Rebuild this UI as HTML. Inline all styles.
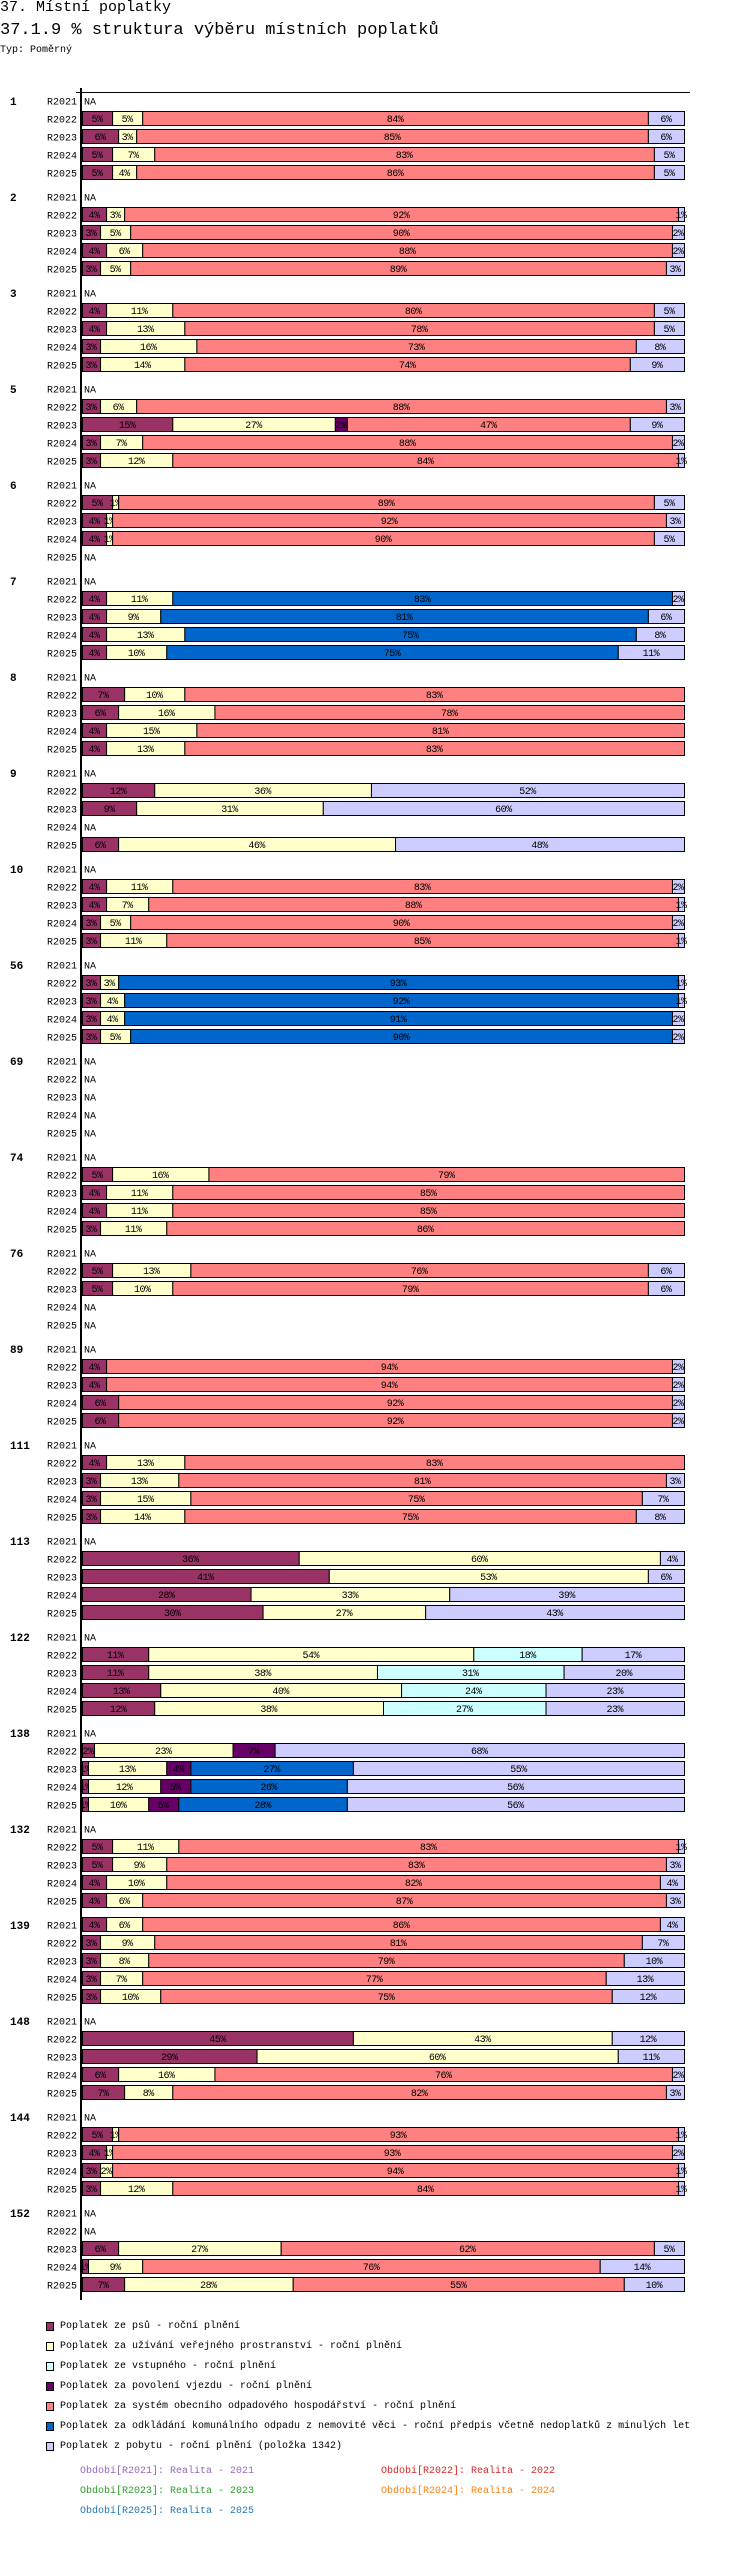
<!DOCTYPE html>
<html><head><meta charset="utf-8">
<style>
body{margin:0;background:#fff;font-family:"Liberation Mono",monospace;}
#wrap{position:relative;width:750px;height:2570px;overflow:hidden;}
.t1{position:absolute;left:0;top:-1px;font-size:15px;}
.t2{position:absolute;left:0;top:21px;font-size:17px;}
.t3{position:absolute;left:0;top:45px;font-size:10px;}
svg{position:absolute;left:0;top:0;}
.leg{position:absolute;left:60px;font-size:10px;white-space:nowrap;line-height:14px;}
.per{position:absolute;font-size:10px;white-space:nowrap;line-height:14px;}
</style></head><body>
<div id="wrap">
<div class="t1">37. Místní poplatky</div>
<div class="t2">37.1.9 % struktura výběru místních poplatků</div>
<div class="t3">Typ: Poměrný</div>
<svg id="chart" width="750" height="2570"></svg>
</div>
<script>
const groups = ["1","2","3","5","6","7","8","9","10","56","69","74","76","89","111","113","122","138","132","139","148","144","152"];
const periods = ["R2021","R2022","R2023","R2024","R2025"];
const seriesNames = ["Poplatek ze psů - roční plnění","Poplatek za užívání veřejného prostranství - roční plnění","Poplatek ze vstupného - roční plnění","Poplatek za povolení vjezdu - roční plnění","Poplatek za systém obecního odpadového hospodářství - roční plnění","Poplatek za odkládání komunálního odpadu z nemovité věci - roční předpis včetně nedoplatků z minulých let","Poplatek z pobytu - roční plnění (položka 1342)"];
const seriesColors = ["#993366","#ffffcc","#ccffff","#660066","#ff8080","#0066cc","#ccccff"];
const psy = [[0,5,6,5,5],[0,4,3,4,3],[0,4,4,3,3],[0,3,15,3,3],[0,5,4,4,0],[0,4,4,4,4],[0,7,6,4,4],[0,12,9,0,6],[0,4,4,3,3],[0,3,3,3,3],[0,0,0,0,0],[0,5,4,4,3],[0,5,5,0,0],[0,4,4,6,6],[0,4,3,3,3],[0,36,41,28,30],[0,11,11,13,12],[0,2,1,1,1],[0,5,5,4,4],[4,3,3,3,3],[0,45,29,6,7],[0,5,4,3,3],[0,0,6,1,7]];
const uzivani = [[0,5,3,7,4],[0,3,5,6,5],[0,11,13,16,14],[0,6,27,7,12],[0,1,1,1,0],[0,11,9,13,10],[0,10,16,15,13],[0,36,31,0,46],[0,11,7,5,11],[0,3,4,4,5],[0,0,0,0,0],[0,16,11,11,11],[0,13,10,0,0],[0,0,0,0,0],[0,13,13,15,14],[0,60,53,33,27],[0,54,38,40,38],[0,23,13,12,10],[0,11,9,10,6],[6,9,8,7,10],[0,43,60,16,8],[0,1,1,2,12],[0,0,27,9,28]];
const vstupne = [[0,0,0,0,0],[0,0,0,0,0],[0,0,0,0,0],[0,0,0,0,0],[0,0,0,0,0],[0,0,0,0,0],[0,0,0,0,0],[0,0,0,0,0],[0,0,0,0,0],[0,0,0,0,0],[0,0,0,0,0],[0,0,0,0,0],[0,0,0,0,0],[0,0,0,0,0],[0,0,0,0,0],[0,0,0,0,0],[0,18,31,24,27],[0,0,0,0,0],[0,0,0,0,0],[0,0,0,0,0],[0,0,0,0,0],[0,0,0,0,0],[0,0,0,0,0]];
const vjezd = [[0,0,0,0,0],[0,0,0,0,0],[0,0,0,0,0],[0,0,2,0,0],[0,0,0,0,0],[0,0,0,0,0],[0,0,0,0,0],[0,0,0,0,0],[0,0,0,0,0],[0,0,0,0,0],[0,0,0,0,0],[0,0,0,0,0],[0,0,0,0,0],[0,0,0,0,0],[0,0,0,0,0],[0,0,0,0,0],[0,0,0,0,0],[0,7,4,5,5],[0,0,0,0,0],[0,0,0,0,0],[0,0,0,0,0],[0,0,0,0,0],[0,0,0,0,0]];
const odpad = [[0,84,85,83,86],[0,92,90,88,89],[0,80,78,73,74],[0,88,47,88,84],[0,89,92,90,0],[0,0,0,0,0],[0,83,78,81,83],[0,0,0,0,0],[0,83,88,90,85],[0,0,0,0,0],[0,0,0,0,0],[0,79,85,85,86],[0,76,79,0,0],[0,94,94,92,92],[0,83,81,75,75],[0,0,0,0,0],[0,0,0,0,0],[0,0,0,0,0],[0,83,83,82,87],[86,81,79,77,75],[0,0,0,76,82],[0,93,93,94,84],[0,0,62,76,55]];
const odkladani = [[0,0,0,0,0],[0,0,0,0,0],[0,0,0,0,0],[0,0,0,0,0],[0,0,0,0,0],[0,83,81,75,75],[0,0,0,0,0],[0,0,0,0,0],[0,0,0,0,0],[0,93,92,91,90],[0,0,0,0,0],[0,0,0,0,0],[0,0,0,0,0],[0,0,0,0,0],[0,0,0,0,0],[0,0,0,0,0],[0,0,0,0,0],[0,0,27,26,28],[0,0,0,0,0],[0,0,0,0,0],[0,0,0,0,0],[0,0,0,0,0],[0,0,0,0,0]];
const pobyt = [[0,6,6,5,5],[0,1,2,2,3],[0,5,5,8,9],[0,3,9,2,1],[0,5,3,5,0],[0,2,6,8,11],[0,0,0,0,0],[0,52,60,0,48],[0,2,1,2,1],[0,1,1,2,2],[0,0,0,0,0],[0,0,0,0,0],[0,6,6,0,0],[0,2,2,2,2],[0,0,3,7,8],[0,4,6,39,43],[0,17,20,23,23],[0,68,55,56,56],[0,1,3,4,3],[4,7,10,13,12],[0,12,11,2,3],[0,1,2,1,1],[0,0,5,14,10]];
const periodLabels = ["Období[R2021]: Realita - 2021","Období[R2022]: Realita - 2022","Období[R2023]: Realita - 2023","Období[R2024]: Realita - 2024","Období[R2025]: Realita - 2025"];
const periodColors = ["#9467bd","#d62728","#2ca02c","#ff7f0e","#1f77b4"];

const allSeries = [psy,uzivani,vstupne,vjezd,odpad,odkladani,pobyt];
const NS = "http://www.w3.org/2000/svg";
const svg = document.getElementById('chart');
const wrap = document.getElementById('wrap');
const X0 = 82, X1 = 684, GROUP_Y0 = 101, GROUP_STEP = 96, ROW_STEP = 18;
function xScale(frac){ return X0 + frac*(X1-X0); }
function rowY(g,r){ return GROUP_Y0 + g*GROUP_STEP + r*ROW_STEP; }
function mk(tag, attrs, parent){
  const e = document.createElementNS(NS, tag);
  for (const k in attrs) e.setAttribute(k, attrs[k]);
  (parent||svg).appendChild(e);
  return e;
}
function txt(s, attrs, parent){ const e = mk('text', attrs, parent); e.textContent = s; return e; }

const topLine = mk('line',{x1:76,y1:92.5,x2:690,y2:92.5,stroke:'#000','stroke-width':1});



groups.forEach((gname,g)=>{
  const gg = mk('g',{});
  
  
  const gl = txt(gname,{x:10,y:rowY(g,0)+4,'font-size':11,'font-weight':'bold','font-family':'Liberation Mono, monospace'},gg);
  
  
  periods.forEach((p,r)=>{
    const cy = rowY(g,r);
    const pl = txt(p,{x:77,y:cy+3.5,'font-size':10,'text-anchor':'end','font-family':'Liberation Mono, monospace'},gg);
    
    
    const vals = allSeries.map(s=>s[g][r]||0);
    const sum = vals.reduce((a,b)=>a+b,0);
    if (sum<=0){
      const na = txt('NA',{x:84,y:cy+3.5,'font-size':10,'font-family':'Liberation Mono, monospace'},gg);
      
      
      return;
    }
    let acc = 0;
    vals.forEach((v,si)=>{
      if (v<=0) return;
      const xa = xScale(acc/sum), xb = xScale((acc+v)/sum);
      acc += v;
      const rect = mk('rect',{x:xa+0.5,y:cy-7.5,width:Math.max(0,xb-xa),height:14,fill:seriesColors[si],stroke:'#000','stroke-width':1},gg);
      
      
      const lb = txt(v+'%',{x:(xa+xb)/2,y:cy+3,'font-size':10,'text-anchor':'middle','font-family':'Liberation Mono, monospace','letter-spacing':'-0.5'},gg);
      
      
    });
  });
});
const axis = mk('line',{x1:81,y1:88,x2:81,y2:2300,stroke:'#000','stroke-width':2});



seriesNames.forEach((n,i)=>{
  const y = 2327 + i*20;
  const sq = mk('rect',{x:46.5,y:y-4.5,width:7,height:8,fill:seriesColors[i],stroke:'#000','stroke-width':1});
  
  
  const d = document.createElement('div');
  d.className = 'leg';
  d.style.top = (y-7)+'px';
  d.textContent = n;
  
  
  wrap.appendChild(d);
});
periodLabels.forEach((n,i)=>{
  const col = i%2, row = Math.floor(i/2);
  const d = document.createElement('div');
  d.className = 'per';
  d.style.left = (col?381:80)+'px';
  d.style.top = (2465+row*20)+'px';
  d.style.color = periodColors[i];
  d.textContent = n;
  
  
  wrap.appendChild(d);
});
</script>
</body></html>
